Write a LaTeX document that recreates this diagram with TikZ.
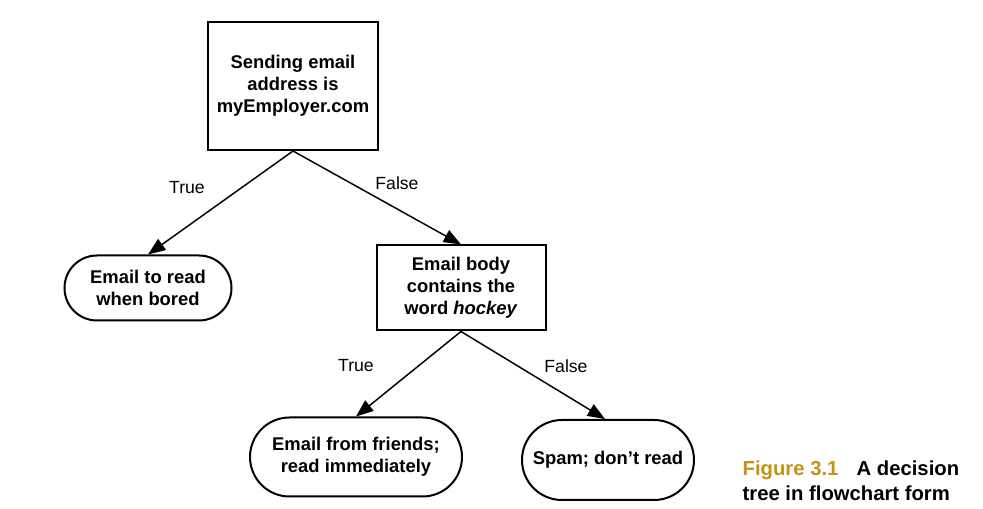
\documentclass[tikz,border=0pt]{standalone}
\usepackage{fontspec}
\setmainfont{Liberation Sans}
\usetikzlibrary{arrows.meta,shapes.misc}
\definecolor{figgold}{RGB}{196,146,20}
\begin{document}
\begin{tikzpicture}[x=0.75pt,y=-0.75pt,
  boxfont/.style={font=\fontsize{13.8}{16.5}\selectfont\bfseries},
  decision/.style={draw,line width=1.5pt,align=center,boxfont,inner sep=0pt},
  terminal/.style={draw,line width=1.5pt,rounded rectangle,align=center,boxfont,inner sep=0pt},
  conn/.style={line width=1.1pt,-{Triangle[length=13pt,width=10pt]}},
  lbl/.style={font=\fontsize{13.2}{15}\selectfont}]
\useasboundingbox (0,0) rectangle (983,509);
\node[decision,minimum width=170*0.75pt,minimum height=128*0.75pt] (q1) at (293,86) {Sending email\\address is\\myEmployer.com};
\node[terminal,minimum width=167*0.75pt,minimum height=65*0.75pt] (t1) at (148,288) {Email to read\\when bored};
\node[decision,minimum width=169*0.75pt,minimum height=85*0.75pt] (q2) at (461,288) {Email body\\contains the\\word \textit{hockey}};
\node[terminal,minimum width=212*0.75pt,minimum height=79*0.75pt] (t2) at (356,457) {Email from friends;\\read immediately};
\node[terminal,minimum width=172*0.75pt,minimum height=80*0.75pt] (t3) at (608,460) {Spam; don't read};
\coordinate (q1b) at (q1.south);
\coordinate (q2b) at (q2.south);
\draw[conn] (q1b) -- (t1.north);
\draw[conn] (q1b) -- (q2.north);
\draw[conn] (q2b) -- (t2.north);
\draw[conn] (q2b) -- ([xshift=-3*0.75pt]t3.north);
\node[lbl] (l1) at (187,188) {True};
\node[lbl] (l2) at (397,183) {False};
\node[lbl] (l3) at (356,366) {True};
\node[lbl] (l4) at (566,366) {False};
\node[anchor=west,align=left,font=\fontsize{15.2}{19}\selectfont\bfseries] (cap) at (738,481) {\textcolor{figgold}{Figure 3.1}\hspace{0.9em}A decision\\tree in flowchart form};
\end{tikzpicture}
\end{document}
